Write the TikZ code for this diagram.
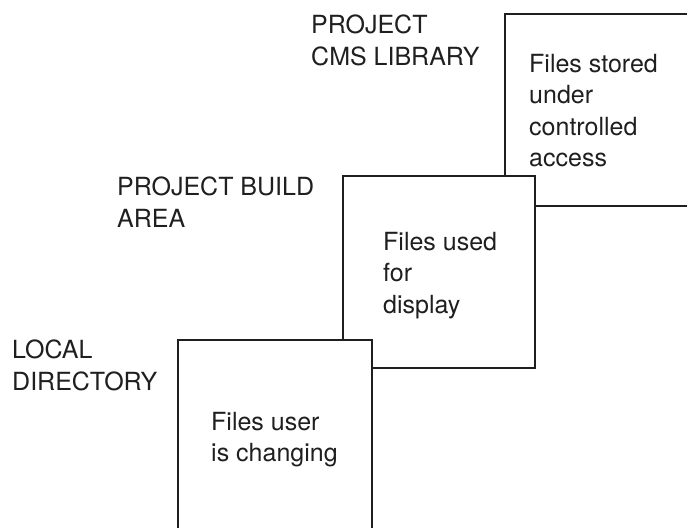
\documentclass[tikz,border=0pt]{standalone}
\usepackage{fontspec}
\setmainfont{TeX Gyre Heros}
\usetikzlibrary{positioning}
\begin{document}
\begin{tikzpicture}[x=1pt,y=-1pt,
    area/.style={draw=black!88, fill=white, line width=1.8pt, anchor=north west,
        inner sep=0pt, minimum width=192pt, minimum height=192pt},
    areatext/.style={anchor=north west, inner sep=0pt, align=left, text=black!88,
        font=\fontsize{25}{31.5}\selectfont}]
    \useasboundingbox (0,0) rectangle (687,527);
    \clip (0,0) rectangle (687,527);

    % Disegna i riquadri (dal fondo verso il davanti)
    \node[area] (cms) at (504,13) {};
    \node[area] (build) at (342,175) {};
    \node[area, minimum width=194pt] (local) at (177,339) {};

    % Testi dentro i riquadri
    \node[areatext] (cmsfiles) at (529,54) {Files stored\\under\\controlled\\access};
    \node[areatext] (buildfiles) at (383,232) {Files used\\for\\display};
    \node[areatext] (localfiles) at (211,412) {Files user\\is changing};

    % Nomi delle aree
    \node[areatext] (cmsname) at (311,15) {PROJECT\\CMS LIBRARY};
    \node[areatext] (buildname) at (117,177) {PROJECT BUILD\\AREA};
    \node[areatext] (localname) at (12,340) {LOCAL\\DIRECTORY};
\end{tikzpicture}
\end{document}
